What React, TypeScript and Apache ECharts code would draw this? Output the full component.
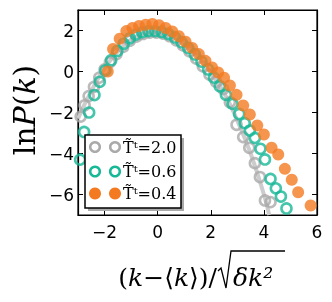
import React, { useEffect, useRef } from "react";
import * as echarts from "echarts";

const xTicks = [-2, 0, 2, 4, 6];
const yTicks = [-6, -4, -2, 0, 2];
const seriesNames = ["T\u0303\u1D57=2.0", "T\u0303\u1D57=0.6", "T\u0303\u1D57=0.4"];

const fitX = [-3, -2.5, -2, -1.5, -1, -0.5, 0, 0.5, 1, 1.5, 2, 2.5, 3, 3.5, 4, 4.2];
const fitY = [-2.3, -0.95, 0.15, 0.98, 1.55, 1.86, 1.92, 1.75, 1.35, 0.75, -0.08, -1.05, -2.4, -4.0, -6.0, -7.0];

const grayX = [-2.9, -2.75, -2.6, -2.4, -2.2, -2.0, -1.8, -1.55, -1.3, -1.05, -0.8, -0.55, -0.3, -0.05, 0.2, 0.45, 0.7, 0.95, 1.2, 1.45, 1.7, 1.95, 2.2, 2.47, 2.72, 2.97, 3.22, 3.45, 3.66, 3.85, 4.04, 4.25];
const grayY = [-2.2, -1.65, -1.2, -0.75, -0.3, 0.1, 0.45, 0.85, 1.2, 1.5, 1.7, 1.83, 1.9, 1.9, 1.85, 1.72, 1.52, 1.28, 0.98, 0.63, 0.25, -0.15, -0.5, -0.85, -1.5, -2.6, -3.2, -3.72, -4.47, -5.15, -6.29, -6.37];

const tealX = [-3.05, -2.92, -2.77, -2.58, -2.38, -2.18, -1.97, -1.75, -1.52, -1.28, -1.05, -0.82, -0.58, -0.35, -0.1, 0.15, 0.4, 0.65, 0.9, 1.15, 1.4, 1.65, 1.9, 2.12, 2.34, 2.57, 2.82, 3.07, 3.28, 3.47, 3.66, 3.87, 4.04, 4.25, 4.45, 4.64, 4.85, 5.05];
const tealY = [-5.9, -4.3, -2.95, -2.0, -1.15, -0.5, 0.05, 0.55, 1.0, 1.35, 1.62, 1.8, 1.92, 1.97, 1.97, 1.93, 1.83, 1.66, 1.43, 1.15, 0.83, 0.48, 0.1, -0.3, -0.72, -1.14, -1.58, -2.07, -2.52, -2.88, -3.24, -3.77, -4.29, -5.24, -5.7, -6.1, -6.68, -7.05];

const orangeX = [-1.88, -1.68, -1.43, -1.18, -0.95, -0.7, -0.45, -0.2, 0.05, 0.3, 0.55, 0.8, 1.05, 1.3, 1.55, 1.8, 2.05, 2.28, 2.5, 2.72, 2.97, 3.22, 3.47, 3.75, 4.0, 4.29, 4.54, 4.79, 5.05, 5.29, 5.76];
const orangeY = [0.0, 1.1, 1.6, 1.97, 2.12, 2.22, 2.28, 2.32, 2.26, 2.12, 1.95, 1.72, 1.45, 1.15, 0.85, 0.52, 0.2, -0.05, -0.3, -0.68, -1.14, -1.66, -2.1, -2.63, -3.07, -3.72, -4.05, -4.75, -5.28, -5.89, -6.54];

const GRAY = "#aaaaaa";
const TEAL = "#17b897";
const ORANGE = "#f47a22";

const zip = (xs: number[], ys: number[]) => xs.map((x, i) => [x, ys[i]]);
const fmt = (v: number) => String(v).replace("-", "\u2212");

export default function App() {
  const ref = useRef<HTMLDivElement>(null);
  useEffect(() => {
    if (!ref.current) return;
    const chart = echarts.init(ref.current, null, { renderer: "svg" });
    const axisCommon = {
      axisLine: { show: true, onZero: false, lineStyle: { color: "#000", width: 1.2 } },
      axisTick: { show: true, inside: true, length: 5, lineStyle: { color: "#000", width: 1 } },
      splitLine: { show: false },
    };
    const labelStyle = { color: "#000", fontSize: 17, fontFamily: "DejaVu Sans" };
    const legendRows = [147, 171.5, 193.5];
    const legendStyles = [
      { fill: "none", stroke: GRAY, lineWidth: 2.5 },
      { fill: "none", stroke: TEAL, lineWidth: 2.5 },
      { fill: ORANGE, stroke: ORANGE, lineWidth: 0 },
    ];
    const legendEls: any[] = [
      { type: "rect", shape: { x: 88, y: 138, width: 96, height: 73 }, style: { fill: "#aaaaaa" }, z: 100 },
      { type: "rect", shape: { x: 85, y: 135, width: 96, height: 73 }, style: { fill: "#fff", stroke: "#000", lineWidth: 1.5 }, z: 101 },
    ];
    legendRows.forEach((y, i) => {
      [95, 115].forEach((cx) => {
        legendEls.push({ type: "circle", shape: { cx, cy: y, r: i === 2 ? 6 : 4.8 }, style: legendStyles[i], z: 102 });
      });
      legendEls.push({
        type: "text", x: 123, y, z: 102,
        style: { text: seriesNames[i], fill: "#000", font: "16px 'DejaVu Serif'", verticalAlign: "middle", align: "left" },
      });
    });
    chart.setOption({
      animation: false,
      grid: { left: 78, right: 15, top: 10, bottom: 87, show: true, borderColor: "#000", borderWidth: 1.2 },
      xAxis: [
        { type: "value", min: -3, max: 6, ...axisCommon,
          axisTick: { ...axisCommon.axisTick, customValues: xTicks },
          axisLabel: { ...labelStyle, customValues: xTicks, formatter: fmt, margin: 8 } },
        { type: "value", min: -3, max: 6, position: "top", ...axisCommon,
          axisTick: { ...axisCommon.axisTick, customValues: xTicks },
          axisLabel: { show: false } },
      ],
      yAxis: [
        { type: "value", min: -7, max: 3, ...axisCommon,
          axisTick: { ...axisCommon.axisTick, customValues: yTicks },
          axisLabel: { ...labelStyle, customValues: yTicks, formatter: fmt, margin: 4 } },
        { type: "value", min: -7, max: 3, position: "right", ...axisCommon,
          axisTick: { ...axisCommon.axisTick, customValues: yTicks },
          axisLabel: { show: false } },
      ],
      series: [
        { type: "line", data: zip(fitX, fitY), smooth: true, symbol: "none", lineStyle: { color: "#cccccc", width: 4 }, z: 1 },
        { type: "scatter", name: seriesNames[0], data: zip(grayX, grayY), symbol: "circle", symbolSize: 10,
          itemStyle: { color: "rgba(0,0,0,0)", borderColor: GRAY, borderWidth: 2.6 }, z: 2 },
        { type: "scatter", name: seriesNames[1], data: zip(tealX, tealY), symbol: "circle", symbolSize: 10,
          itemStyle: { color: "rgba(0,0,0,0)", borderColor: TEAL, borderWidth: 2.6 }, z: 3 },
        { type: "scatter", name: seriesNames[2], data: zip(orangeX, orangeY), symbol: "circle", symbolSize: 12,
          itemStyle: { color: ORANGE }, z: 4 },
      ],
      graphic: [
        ...legendEls,
        {
          type: "text", x: 24, y: 110, rotation: Math.PI / 2,
          style: {
            text: "{r|ln}{i|P}{r|(}{i|k}{r|)}", align: "center", verticalAlign: "middle",
            rich: {
              r: { font: "30px 'DejaVu Serif'", fill: "#000" },
              i: { font: "italic 30px 'DejaVu Serif'", fill: "#000" },
            },
          },
        },
        {
          type: "text", x: 217, y: 277,
          style: {
            text: "{r|(}{i|k}{r|\u2212\u27E8}{i|k}{r|\u27E9)/}", align: "right", verticalAlign: "middle",
            rich: {
              r: { font: "25px 'DejaVu Serif'", fill: "#000" },
              i: { font: "italic 25px 'DejaVu Serif'", fill: "#000" },
            },
          },
        },
        {
          type: "text", x: 233, y: 277,
          style: { text: "\u03B4k\u00B2", align: "left", verticalAlign: "middle", font: "italic 25px 'DejaVu Serif'", fill: "#000" },
        },
        {
          type: "polyline",
          shape: { points: [[218, 271], [221, 268], [226, 288], [231, 251], [285, 251]] },
          style: { stroke: "#000", lineWidth: 1.3, fill: "none" },
        },
      ],
    });
    return () => chart.dispose();
  }, []);
  return <div ref={ref} style={{ position: "fixed", left: 0, top: 0, width: 332, height: 302 }} />;
}
